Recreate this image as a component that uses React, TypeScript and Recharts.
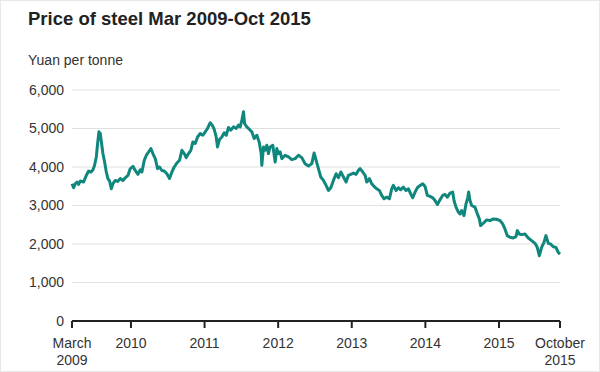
import { LineChart, Line, XAxis, YAxis, CartesianGrid } from "recharts";

// time as fractional year, price in yuan per tonne
const dates = [
  2009.199, 2009.221, 2009.244, 2009.267, 2009.289, 2009.312, 2009.357, 2009.393, 2009.425, 2009.457,
  2009.484, 2009.506, 2009.529, 2009.547, 2009.565, 2009.583, 2009.601, 2009.619, 2009.642, 2009.665,
  2009.687, 2009.71, 2009.733, 2009.755, 2009.787, 2009.819, 2009.855, 2009.891, 2009.923, 2009.959,
  2009.99, 2010.027, 2010.058, 2010.095, 2010.126, 2010.149, 2010.181, 2010.208, 2010.239, 2010.271,
  2010.298, 2010.33, 2010.362, 2010.389, 2010.42, 2010.452, 2010.488, 2010.524, 2010.556, 2010.588,
  2010.624, 2010.66, 2010.692, 2010.724, 2010.751, 2010.782, 2010.814, 2010.841, 2010.873, 2010.905,
  2010.941, 2010.977, 2011.009, 2011.04, 2011.077, 2011.104, 2011.131, 2011.158, 2011.176, 2011.203,
  2011.235, 2011.267, 2011.294, 2011.325, 2011.357, 2011.393, 2011.43, 2011.461, 2011.484, 2011.507,
  2011.529, 2011.543, 2011.574, 2011.611, 2011.642, 2011.674, 2011.71, 2011.742, 2011.769, 2011.778,
  2011.801, 2011.823, 2011.846, 2011.868, 2011.891, 2011.927, 2011.959, 2011.982, 2012.004, 2012.027,
  2012.05, 2012.095, 2012.14, 2012.185, 2012.231, 2012.276, 2012.321, 2012.366, 2012.412, 2012.457,
  2012.488, 2012.516, 2012.547, 2012.579, 2012.615, 2012.651, 2012.683, 2012.715, 2012.751, 2012.787,
  2012.819, 2012.851, 2012.887, 2012.923, 2012.955, 2012.986, 2013.022, 2013.059, 2013.09, 2013.113,
  2013.149, 2013.181, 2013.204, 2013.24, 2013.271, 2013.303, 2013.339, 2013.375, 2013.407, 2013.439,
  2013.475, 2013.511, 2013.543, 2013.565, 2013.602, 2013.633, 2013.665, 2013.701, 2013.737, 2013.769,
  2013.801, 2013.828, 2013.86, 2013.891, 2013.928, 2013.964, 2013.995, 2014.027, 2014.063, 2014.1,
  2014.131, 2014.163, 2014.199, 2014.235, 2014.267, 2014.299, 2014.335, 2014.371, 2014.389, 2014.416,
  2014.448, 2014.471, 2014.493, 2014.525, 2014.552, 2014.575, 2014.588, 2014.606, 2014.629, 2014.674,
  2014.706, 2014.733, 2014.751, 2014.787, 2014.833, 2014.878, 2014.923, 2014.968, 2015.014, 2015.05,
  2015.081, 2015.113, 2015.149, 2015.195, 2015.231, 2015.249, 2015.276, 2015.308, 2015.353, 2015.398,
  2015.444, 2015.489, 2015.52, 2015.548, 2015.579, 2015.611, 2015.638, 2015.67, 2015.701, 2015.738,
  2015.774, 2015.805, 2015.829,
];

const prices = [
  3565, 3460, 3565, 3610, 3550, 3635, 3610, 3780, 3895, 3870,
  3930, 4045, 4260, 4610, 4913, 4870, 4610, 4350, 4130, 3870,
  3700, 3635, 3435, 3565, 3650, 3625, 3700, 3650, 3720, 3780,
  3955, 4020, 3910, 3810, 3930, 3870, 4175, 4300, 4390, 4480,
  4350, 4220, 3955, 4000, 3910, 3895, 3825, 3700, 3870, 4000,
  4105, 4175, 4435, 4350, 4245, 4350, 4435, 4650, 4610, 4780,
  4870, 4825, 4913, 5000, 5150, 5087, 4975, 4780, 4520, 4715,
  4780, 4890, 4825, 5026, 4957, 5043, 5000, 5087, 5043, 5217,
  5435, 5130, 5043, 4975, 4913, 4740, 4825, 4650, 4350, 4043,
  4522, 4435, 4565, 4348, 4522, 4565, 4130, 4478, 4348, 4391,
  4217, 4304, 4261, 4191, 4217, 4304, 4243, 4087, 4026, 4087,
  4365, 4174, 3957, 3739, 3652, 3522, 3391, 3461, 3652, 3826,
  3722, 3870, 3739, 3609, 3783, 3809, 3843, 3809, 3913, 3957,
  3870, 3783, 3609, 3696, 3565, 3496, 3435, 3391, 3261, 3174,
  3217, 3174, 3435, 3522, 3391, 3461, 3409, 3478, 3391, 3435,
  3304, 3200, 3348, 3461, 3522, 3565, 3496, 3261, 3235, 3200,
  3130, 3026, 3148, 3261, 3287, 3217, 3322, 3348, 3130, 2956,
  2826, 2783, 2870, 2739, 3043, 3200, 3348, 3130, 3000, 2956,
  2783, 2652, 2478, 2539, 2626, 2609, 2652, 2643, 2609, 2522,
  2391, 2217, 2174, 2157, 2191, 2348, 2261, 2243, 2261, 2157,
  2087, 2017, 1913, 1696, 1913, 2043, 2217, 2017, 2000, 1930,
  1913, 1783, 1739,
];

const xTicks = [2009.199, 2010, 2011, 2012, 2013, 2014, 2015, 2015.829];
const xTickLabels = [
  ["March", "2009"],
  ["2010"],
  ["2011"],
  ["2012"],
  ["2013"],
  ["2014"],
  ["2015"],
  ["October", "2015"],
];
const yTicks = [0, 1000, 2000, 3000, 4000, 5000, 6000];

const data = dates.map((d, i) => ({ date: d, price: prices[i] }));

const FONT = '"Liberation Sans", Arial, Helvetica, sans-serif';

function XTick(props: any) {
  const { x, y, index } = props;
  const lines = xTickLabels[index] || [];
  return (
    <g transform={`translate(${x},${y})`}>
      {lines.map((l, i) => (
        <text key={i} x={0} y={18 + i * 17} textAnchor="middle" fill="#333" fontSize={14} fontFamily={FONT}>
          {l}
        </text>
      ))}
    </g>
  );
}

export default function App() {
  return (
    <div style={{ position: "absolute", left: 0, top: 0, width: 600, height: 372, background: "#fff", fontFamily: FONT }}>
      <div style={{ position: "absolute", left: 28, top: 8, fontSize: 18.5, fontWeight: "bold", color: "#222", whiteSpace: "nowrap" }}>
        Price of steel Mar 2009-Oct 2015
      </div>
      <div style={{ position: "absolute", left: 28, top: 52, fontSize: 14, color: "#333", whiteSpace: "nowrap" }}>
        Yuan per tonne
      </div>
      <div style={{ position: "absolute", left: 0, top: 0 }}>
        <LineChart width={600} height={372} data={data} margin={{ top: 90, right: 40, bottom: 0, left: 0 }}>
          <CartesianGrid vertical={false} stroke="#e0e0e0" strokeWidth={1} />
          <XAxis
            dataKey="date"
            type="number"
            domain={[2009.199, 2015.829]}
            ticks={xTicks}
            interval={0}
            axisLine={{ stroke: "#222", strokeWidth: 2 }}
            tickLine={{ stroke: "#222", strokeWidth: 2 }}
            tickSize={7}
            tick={<XTick />}
            height={51}
          />
          <YAxis
            type="number"
            domain={[0, 6000]}
            ticks={yTicks}
            axisLine={false}
            tickLine={false}
            width={72}
            tick={{ fill: "#333", fontSize: 14, fontFamily: FONT }}
            tickFormatter={(v: number) => v.toLocaleString("en-US")}
          />
          <Line
            type="linear"
            dataKey="price"
            stroke="#10877c"
            strokeWidth={3}
            strokeLinejoin="round"
            dot={false}
            isAnimationActive={false}
          />
        </LineChart>
      </div>
      <div style={{ position: "absolute", left: 0, top: 0, width: 600, height: 372, boxSizing: "border-box", border: "1px solid #e8e8e8", pointerEvents: "none" }} />
    </div>
  );
}
